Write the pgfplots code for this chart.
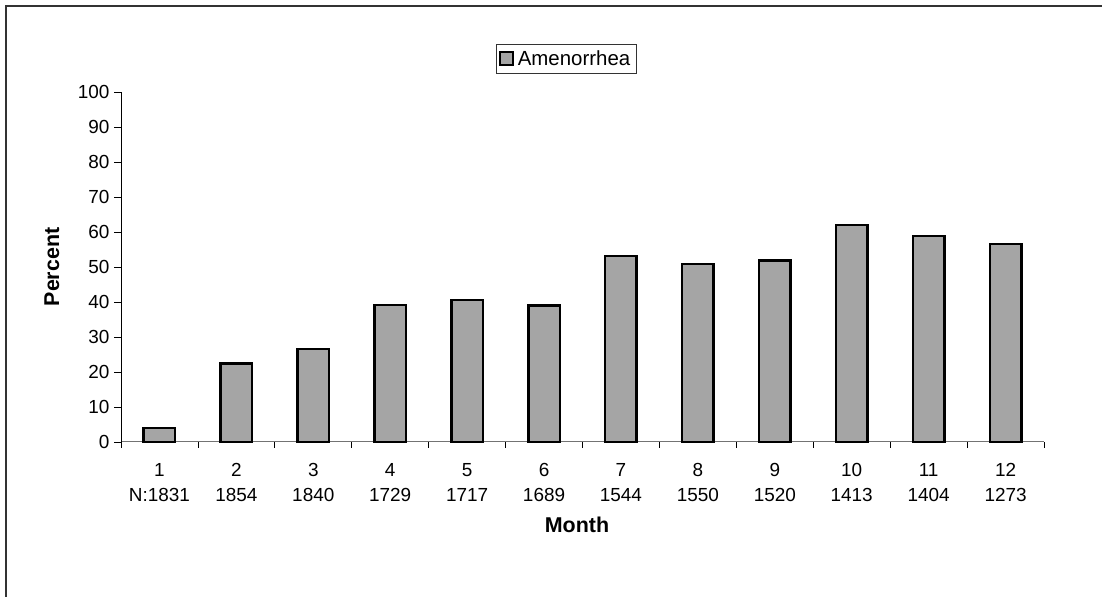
\documentclass[border=0pt]{standalone}
\usepackage{pgfplots}
\pgfplotsset{compat=1.18}
\usepackage{fontspec}
\setmainfont{Liberation Sans}
\definecolor{barfill}{RGB}{165,165,165}
\newcommand{\tl}[2]{\strut#1\\\strut#2}
\begin{document}
\begin{tikzpicture}[x=1bp,y=1bp]
\useasboundingbox (0,0) rectangle (1102,597);
\draw[line width=1.5bp, black!80] (6,-5) -- (6,591) -- (1110,591);
\begin{axis}[
  at={(121bp,155bp)}, anchor=south west,
  scale only axis, width=923bp, height=350bp,
  xmin=0.5, xmax=12.5, ymin=0, ymax=100,
  axis x line*=bottom, axis y line*=left,
  x axis line style={-, line width=1bp, black!55},
  y axis line style={-, line width=1bp, black},
  xtick={1,...,12},
  xticklabels={{\tl{1}{N:1831}},{\tl{2}{1854}},{\tl{3}{1840}},{\tl{4}{1729}},{\tl{5}{1717}},{\tl{6}{1689}},{\tl{7}{1544}},{\tl{8}{1550}},{\tl{9}{1520}},{\tl{10}{1413}},{\tl{11}{1404}},{\tl{12}{1273}}},
  major x tick style={draw=none},
  minor xtick={0.5,1.5,...,12.5},
  minor x tick style={black, line width=0.8bp},
  minor tick length=6bp,
  ytick={0,10,...,100},
  y tick style={black, line width=0.8bp},
  major tick length=7bp,
  tick align=outside,
  /pgf/number format/assume math mode=true,
  xticklabel style={align=center, font=\fontsize{19}{25}\selectfont, yshift=-10bp, inner ysep=0bp},
  yticklabel style={font=\fontsize{19}{21}\selectfont, xshift=-1bp},
  xlabel={\textbf{Month}},
  ylabel={\textbf{Percent}},
  xlabel style={font=\fontsize{21.5}{24}\selectfont, at={(axis description cs:0.494,-0.237)}, anchor=center},
  ylabel style={font=\fontsize{21.5}{24}\selectfont, at={(axis description cs:-0.0748,0.5)}, anchor=center},
  ybar, bar width=31.5bp,
  legend style={at={(axis description cs:0.4827,1.0943)}, anchor=center, draw=black!80, line width=1bp, font=\fontsize{20.5}{22}\selectfont, inner xsep=3bp, inner ysep=4bp, nodes={inner xsep=3.5bp}},
  legend image code/.code={\draw[#1, line width=2bp] (0bp,-6.5bp) rectangle (13bp,6.5bp);},
  clip=false,
]
\addplot[fill=barfill, draw=black, line width=2.5bp] coordinates {
 (1,4.0) (2,22.4) (3,26.6) (4,39.2) (5,40.6) (6,39.0)
 (7,53.2) (8,50.8) (9,51.8) (10,62.0) (11,58.8) (12,56.5)};
\addlegendentry{Amenorrhea}
\end{axis}
\end{tikzpicture}
\end{document}
